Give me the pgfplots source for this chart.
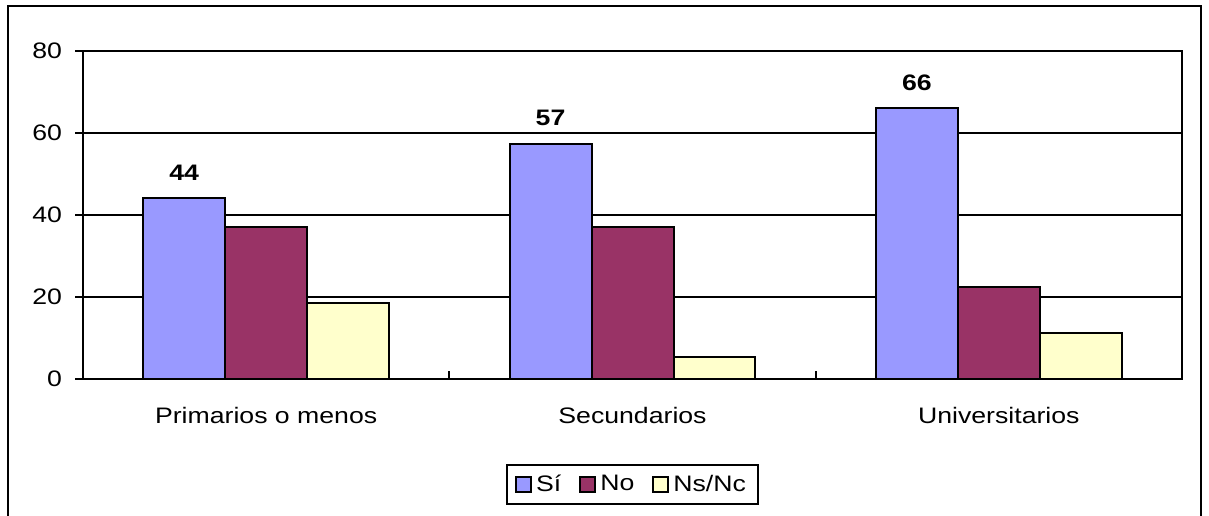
\documentclass[border=0pt]{standalone}
\usepackage{pgfplots}
\pgfplotsset{compat=1.18}
\usepackage{fontspec}
\setmainfont{Liberation Sans}[FakeStretch=1.19]

\definecolor{si}{HTML}{9999FF}
\definecolor{no}{HTML}{993366}
\definecolor{nsnc}{HTML}{FFFFCC}

\begin{document}
\begin{tikzpicture}
\begin{axis}[
    at={(0,0)}, anchor=south west,
    scale only axis,
    width=549.5pt, height=164pt,
    ybar=0pt,
    bar width=0.2238,
    xmin=-0.5, xmax=2.5,
    ymin=0, ymax=80,
    xtick={0,1,2},
    xticklabels={Primarios o menos,Secundarios,Universitarios},
    extra x ticks={0.5,1.5},
    extra x tick labels={},
    xtick pos=bottom,
    ytick pos=left,
    ytick={0,20,40,60,80},
    tick align=inside,
    major tick length=4pt,
    y tick style={xshift=-4pt},
    tick style={black, line width=1pt},
    axis line style={black, line width=1pt},
    ymajorgrids,
    major grid style={black, line width=1pt},
    font=\fontsize{11.2pt}{12pt}\selectfont,
    /pgf/number format/assume math mode=true,
    xticklabel style={yshift=-10.5pt},
    yticklabel style={xshift=-7pt},
    legend style={at={(0.5,-0.3216)}, anchor=center, legend columns=3,
        draw=black, line width=1pt, inner xsep=4pt, inner ysep=3pt,
        /tikz/every even column/.append style={column sep=7pt}},
    legend image code/.code={\draw[#1, line width=1pt] (0pt,-3.75pt) rectangle (7.5pt,3.75pt);},
]
\addplot[fill=si, draw=black, line width=1pt,
    nodes near coords,
    nodes near coords style={font=\fontsize{11.2pt}{12pt}\selectfont\bfseries, yshift=5pt,
        /pgf/number format/fixed, /pgf/number format/precision=0}]
    coordinates {(0,44.1) (1,57.4) (2,66.0)};
\addplot[fill=no, draw=black, line width=1pt]
    coordinates {(0,37.1) (1,37.1) (2,22.5)};
\addplot[fill=nsnc, draw=black, line width=1pt]
    coordinates {(0,18.5) (1,5.4) (2,11.3)};
\legend{Sí,No,Ns/Nc}
\end{axis}
\draw[line width=1pt] (-37.5pt,186.5pt) rectangle (559pt,-90pt);
\pgfresetboundingbox
\path[use as bounding box] (-41.5pt,-68pt) rectangle (563pt,189.5pt);
\end{tikzpicture}
\end{document}
